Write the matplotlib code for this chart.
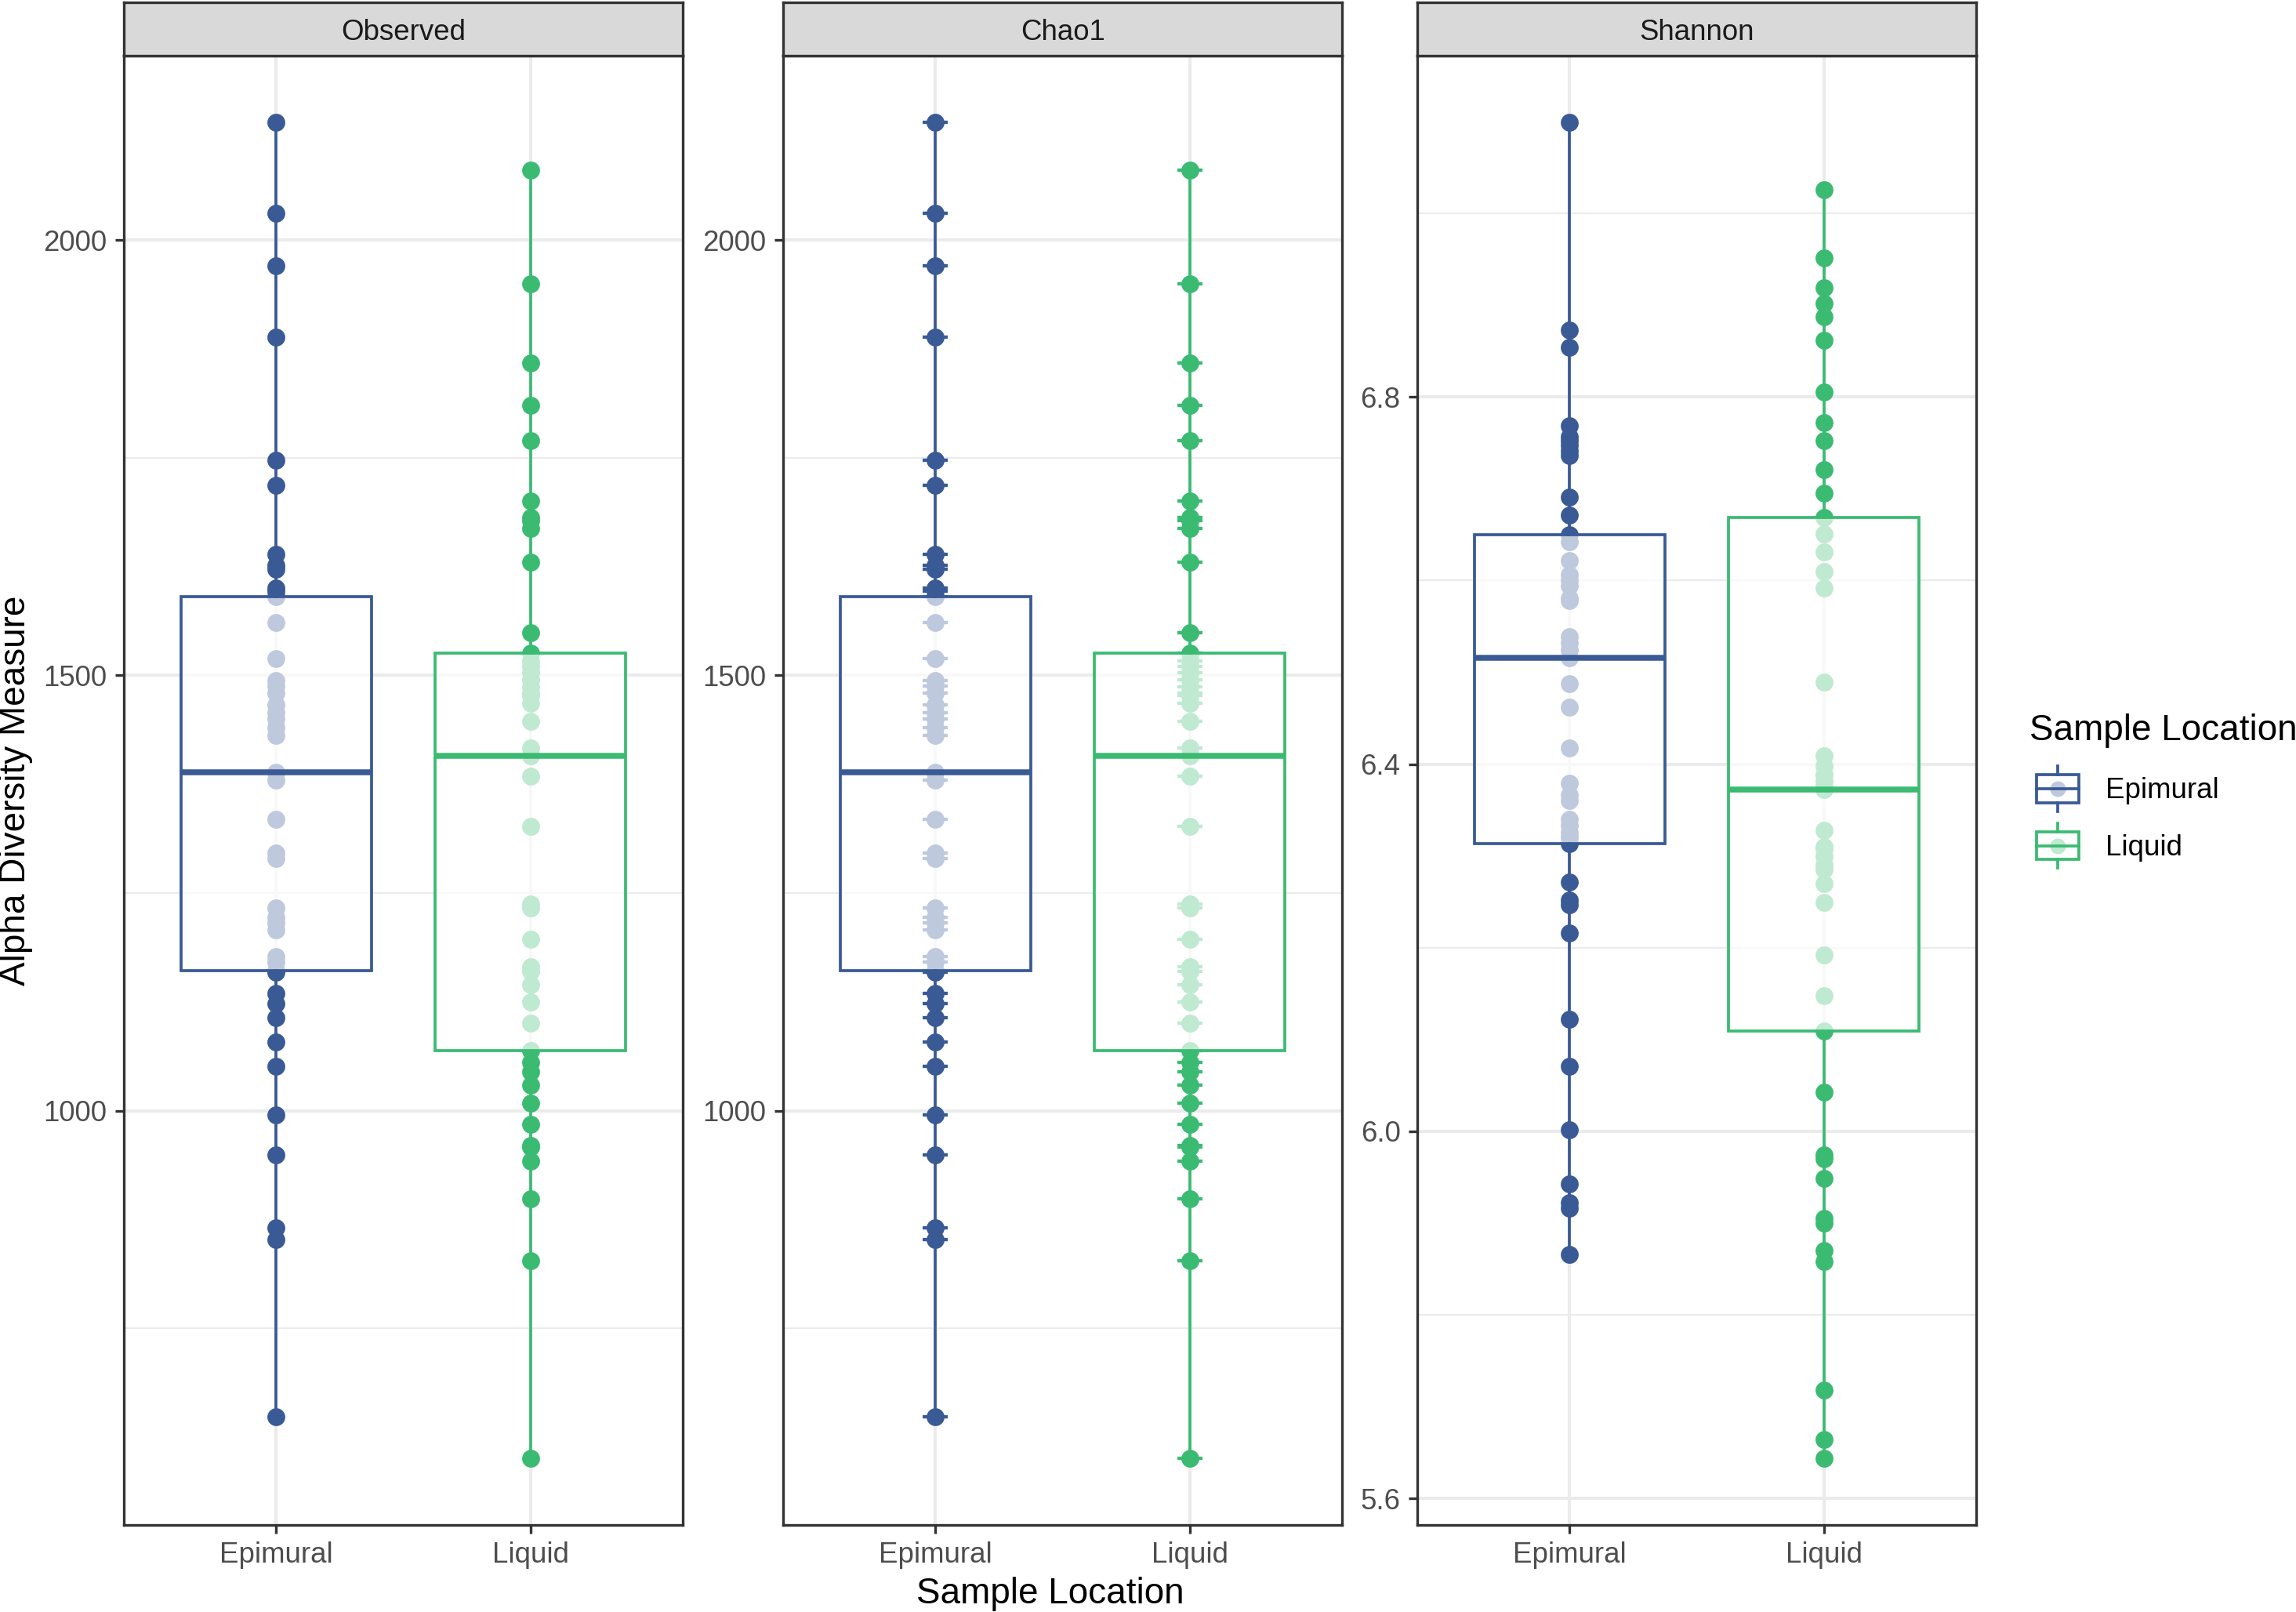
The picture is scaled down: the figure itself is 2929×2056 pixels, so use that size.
import numpy as np
import matplotlib
matplotlib.use("Agg")
import matplotlib.pyplot as plt
from matplotlib.legend_handler import HandlerBase
from matplotlib.lines import Line2D
from matplotlib.patches import Rectangle

plt.rcParams['font.family'] = ['Liberation Sans', 'DejaVu Sans']

locations = ["Epimural", "Liquid"]
measures = ["Observed", "Chao1", "Shannon"]
colors = {"Epimural": "#3A5A96", "Liquid": "#3BBB72"}

observed_epimural = [2135, 2031, 1970, 1888, 1747, 1718, 1639, 1626, 1622, 1600, 1597,
                     1590,
                     1561, 1519, 1494, 1488, 1480, 1466, 1457, 1450, 1440, 1431,
                     1389,
                     1380, 1335, 1296, 1290, 1233, 1222, 1216, 1208, 1177, 1171,
                     1161,
                     1159, 1135, 1123, 1107, 1079, 1051, 995, 949, 866, 852, 649]
observed_liquid = [2080, 1950, 1859, 1810, 1770, 1700, 1681, 1678, 1669, 1630, 1549,
                   1526,
                   1517, 1510, 1503, 1495, 1487, 1480, 1477, 1468, 1447, 1417,
                   1408,
                   1384, 1327, 1237, 1233, 1197, 1165, 1160, 1145, 1125, 1101,
                   1069,
                   1056, 1045, 1029, 1009, 984, 960, 958, 942, 899, 828, 601]
# no singletons in the table, so Chao1 is the same as the observed richness
chao1_epimural = list(observed_epimural)
chao1_liquid = list(observed_liquid)
shannon_epimural = [7.099, 6.873, 6.854, 6.769, 6.757, 6.752, 6.747, 6.741, 6.736, 6.691, 6.671,
                    6.650,
                    6.642, 6.622, 6.606, 6.600, 6.594, 6.581, 6.578, 6.539, 6.532, 6.524,
                    6.516,
                    6.488, 6.462, 6.418, 6.379, 6.366, 6.360, 6.340, 6.333, 6.325, 6.320,
                    6.313,
                    6.272, 6.252, 6.247, 6.216, 6.122, 6.071, 6.002, 5.943, 5.922, 5.916, 5.866]
shannon_liquid = [7.026, 6.951, 6.919, 6.902, 6.887, 6.862, 6.805, 6.772, 6.752, 6.721, 6.695,
                  6.669,
                  6.651, 6.631, 6.610, 6.592, 6.489, 6.409, 6.398, 6.389, 6.382, 6.376,
                  6.372,
                  6.328, 6.310, 6.308, 6.300, 6.290, 6.285, 6.270, 6.249, 6.192, 6.148,
                  6.109,
                  6.043, 5.974, 5.970, 5.949, 5.905, 5.900, 5.870, 5.858, 5.718, 5.664, 5.644]

data = {
    "Observed": [observed_epimural, observed_liquid],
    "Chao1": [chao1_epimural, chao1_liquid],
    "Shannon": [shannon_epimural, shannon_liquid],
}
major_ticks = {
    "Observed": [1000, 1500, 2000],
    "Chao1": [1000, 1500, 2000],
    "Shannon": [5.6, 6.0, 6.4, 6.8],
}
minor_ticks = {
    "Observed": [750, 1250, 1750],
    "Chao1": [750, 1250, 1750],
    "Shannon": [5.8, 6.2, 6.6, 7.0],
}

BOX_FILL = (1, 1, 1, 0.68)
DARK = "#333333"


class BoxKey(HandlerBase):
    # ggplot style boxplot key with the faded point behind it
    def create_artists(self, legend, orig_handle, xdescent, ydescent,
                       width, height, fontsize, trans):
        c = orig_handle.get_color()
        cx = -xdescent + width / 2
        cy = -ydescent + height / 2
        bw, bh, wh = 0.75 * width, 8.6, 6.9
        dot = Line2D([cx], [cy], ls='none', marker='o', ms=4.8, mfc=c, mec='none')
        box = Rectangle((cx - bw / 2, cy - bh / 2), bw, bh,
                        facecolor=BOX_FILL, edgecolor=c, lw=0.9)
        med = Line2D([cx - bw / 2, cx + bw / 2], [cy, cy], color=c, lw=0.9)
        lo = Line2D([cx, cx], [cy - wh, cy - bh / 2], color=c, lw=0.9)
        hi = Line2D([cx, cx], [cy + bh / 2, cy + wh], color=c, lw=0.9)
        arts = [dot, box, med, lo, hi]
        for a in arts:
            a.set_transform(trans)
        return arts


W, H = 2929, 2056
fig = plt.figure(figsize=(W / 300, H / 300), dpi=300)

panel_left = [158, 999, 1808]
panel_w = 713
top_px, bottom_px, strip_top = 71, 1945, 3

for i, m in enumerate(measures):
    ax = fig.add_axes([panel_left[i] / W, 1 - bottom_px / H,
                       panel_w / W, (bottom_px - top_px) / H])
    groups = data[m]
    for pos, (loc, vals) in enumerate(zip(locations, groups)):
        c = colors[loc]
        xs = np.full(len(vals), pos)
        ax.scatter(xs, vals, s=30, color=c, linewidths=0, zorder=2)
        if m == "Chao1":
            ax.errorbar(xs, vals, yerr=np.zeros(len(vals)), fmt='none', ecolor=c,
                        capsize=3.85, capthick=1.0, elinewidth=0.9, zorder=2)
        bp = ax.boxplot([vals], positions=[pos], widths=0.75, patch_artist=True,
                        showfliers=False, showcaps=False, zorder=3)
        for b in bp['boxes']:
            b.set_facecolor(BOX_FILL)
            b.set_edgecolor(c)
            b.set_linewidth(0.9)
        for w in bp['whiskers']:
            w.set_color(c)
            w.set_linewidth(0.9)
        for md in bp['medians']:
            md.set_color(c)
            md.set_linewidth(1.8)

    allv = np.concatenate([np.asarray(g, float) for g in groups])
    lo, hi = allv.min(), allv.max()
    pad = 0.05 * (hi - lo)
    ax.set_ylim(lo - pad, hi + pad)
    ax.set_xlim(-0.6, 1.6)
    ax.set_xticks([0, 1])
    ax.set_xticklabels(locations)
    ax.set_yticks(major_ticks[m])
    if m == "Shannon":
        ax.set_yticklabels([f"{t:.1f}" for t in major_ticks[m]])
    else:
        ax.set_yticklabels([str(t) for t in major_ticks[m]])
    ax.set_yticks(minor_ticks[m], minor=True)
    ax.set_axisbelow(True)
    ax.grid(which='major', color='#EBEBEB', lw=1.0)
    ax.grid(which='minor', axis='y', color='#EBEBEB', lw=0.5)
    ax.tick_params(which='major', labelsize=8.8, labelcolor='#4D4D4D', color=DARK,
                   length=2.75, width=0.8, pad=2.4)
    ax.tick_params(which='minor', length=0)
    for s in ax.spines.values():
        s.set_color(DARK)
        s.set_linewidth(0.8)

    strip = fig.add_axes([panel_left[i] / W, 1 - top_px / H,
                          panel_w / W, (top_px - strip_top) / H])
    strip.set_facecolor('#D9D9D9')
    strip.set_xticks([])
    strip.set_yticks([])
    for s in strip.spines.values():
        s.set_color(DARK)
        s.set_linewidth(0.8)
    strip.text(0.5, 0.44, m, ha='center', va='center', fontsize=8.8,
               color='#1A1A1A', transform=strip.transAxes)

fig.text(20 / W, 1 - 1008 / H, "Alpha Diversity Measure", rotation=90,
         ha='center', va='center', fontsize=11)
fig.text(1340 / W, 1 - 2045 / H, "Sample Location", ha='center',
         va='baseline', fontsize=11)

handles = [Line2D([], [], color=colors[l]) for l in locations]
fig.legend(handles, locations, handler_map={Line2D: BoxKey()},
           loc='upper left', bbox_to_anchor=(2589 / W, 1 - 910 / H),
           frameon=False, title='Sample Location', title_fontsize=11,
           fontsize=8.8, handlelength=1.96, handleheight=1.29,
           handletextpad=0.68, labelspacing=0.88, borderpad=0,
           borderaxespad=0, alignment='left')

fig.savefig("out.png", dpi=300)
